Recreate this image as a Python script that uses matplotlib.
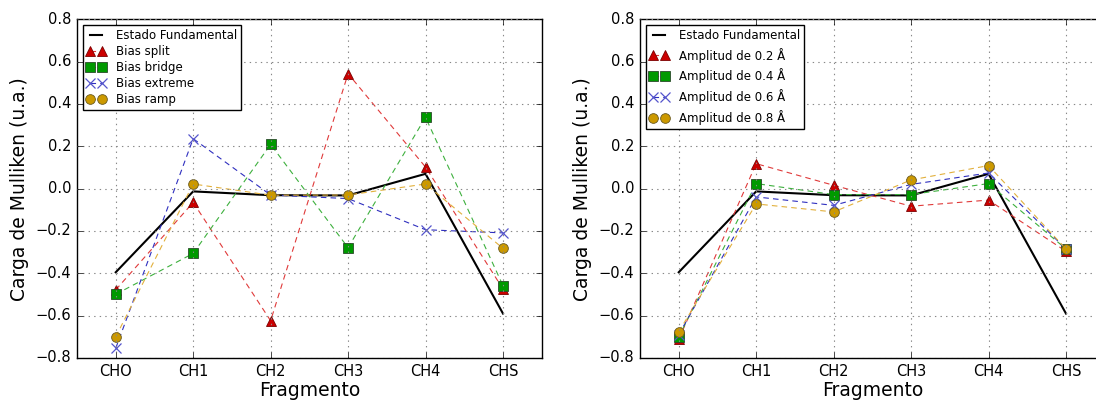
import matplotlib
matplotlib.use("Agg")
import matplotlib.pyplot as plt

plt.style.use("classic")
plt.rcParams["font.family"] = ["DejaVu Sans"]

categories = ["CHO", "CH1", "CH2", "CH3", "CH4", "CHS"]

fundamental = [-0.395, -0.013, -0.031, -0.032, 0.070, -0.590]

bias_split = [-0.478, -0.065, -0.624, 0.543, 0.102, -0.474]
bias_bridge = [-0.499, -0.306, 0.209, -0.279, 0.337, -0.458]
bias_extreme = [-0.754, 0.236, -0.030, -0.047, -0.194, -0.209]
bias_ramp = [-0.700, 0.022, -0.031, -0.030, 0.022, -0.282]

amp_02 = [-0.712, 0.118, 0.016, -0.083, -0.054, -0.296]
amp_04 = [-0.700, 0.024, -0.028, -0.028, 0.024, -0.285]
amp_06 = [-0.690, -0.039, -0.079, 0.020, 0.074, -0.285]
amp_08 = [-0.676, -0.072, -0.110, 0.041, 0.109, -0.285]

left_labels = ["Bias split", "Bias bridge", "Bias extreme", "Bias ramp"]
right_labels = ["Amplitud de 0.2 Å", "Amplitud de 0.4 Å",
                "Amplitud de 0.6 Å", "Amplitud de 0.8 Å"]

styles = [
    dict(marker="^", color="#e03a3a", mfc="#cc0000", mec="#7a0000"),
    dict(marker="s", color="#3db03d", mfc="#009900", mec="#2a4a2a"),
    dict(marker="x", color="#2f2fbf", mfc="#5555cc", mec="#5555cc"),
    dict(marker="o", color="#e2b03c", mfc="#cc9900", mec="#6a5a20"),
]

fig = plt.figure(figsize=(10.96, 4.01), dpi=100, facecolor="white")
ax1 = fig.add_axes([77 / 1096, 1 - 358 / 401, 464.7 / 1096, 338.7 / 401])
ax2 = fig.add_axes([640 / 1096, 1 - 358 / 401, 464.7 / 1096, 338.7 / 401])

x = list(range(len(categories)))

def draw(ax, series, labels, spacing):
    ax.plot(x, fundamental, color="black", lw=1.5, label="Estado Fundamental")
    for vals, lab, st in zip(series, labels, styles):
        ax.plot(x, vals, linestyle="--", dashes=(4, 3), lw=0.8,
                color=st["color"], marker=st["marker"], markersize=7,
                markerfacecolor=st["mfc"], markeredgecolor=st["mec"],
                markeredgewidth=0.6 if st["marker"] != "x" else 0.9,
                label=lab)
    ax.set_xlim(-0.5, 5.5)
    ax.set_ylim(-0.8, 0.8)
    ax.set_xticks(x)
    ax.set_xticklabels(categories)
    ax.set_yticks([-0.8, -0.6, -0.4, -0.2, 0.0, 0.2, 0.4, 0.6, 0.8])
    ax.tick_params(labelsize=10.5)
    ax.grid(True, linestyle=":", color="#888888", linewidth=0.8)
    ax.set_xlabel("Fragmento", fontsize=13.5, labelpad=2)
    ax.set_ylabel("Carga de Mulliken (u.a.)", fontsize=13.5)
    leg = ax.legend(loc="upper left", numpoints=2, fontsize=8.5,
                    handlelength=1.6, handletextpad=0.9, borderpad=0.3,
                    labelspacing=spacing, fancybox=False)
    leg.get_frame().set_edgecolor("black")
    leg.get_frame().set_linewidth(1.0)

draw(ax1, [bias_split, bias_bridge, bias_extreme, bias_ramp], left_labels, 0.27)
draw(ax2, [amp_02, amp_04, amp_06, amp_08], right_labels, 0.5)

fig.savefig("out.png", dpi=100, facecolor="white")
